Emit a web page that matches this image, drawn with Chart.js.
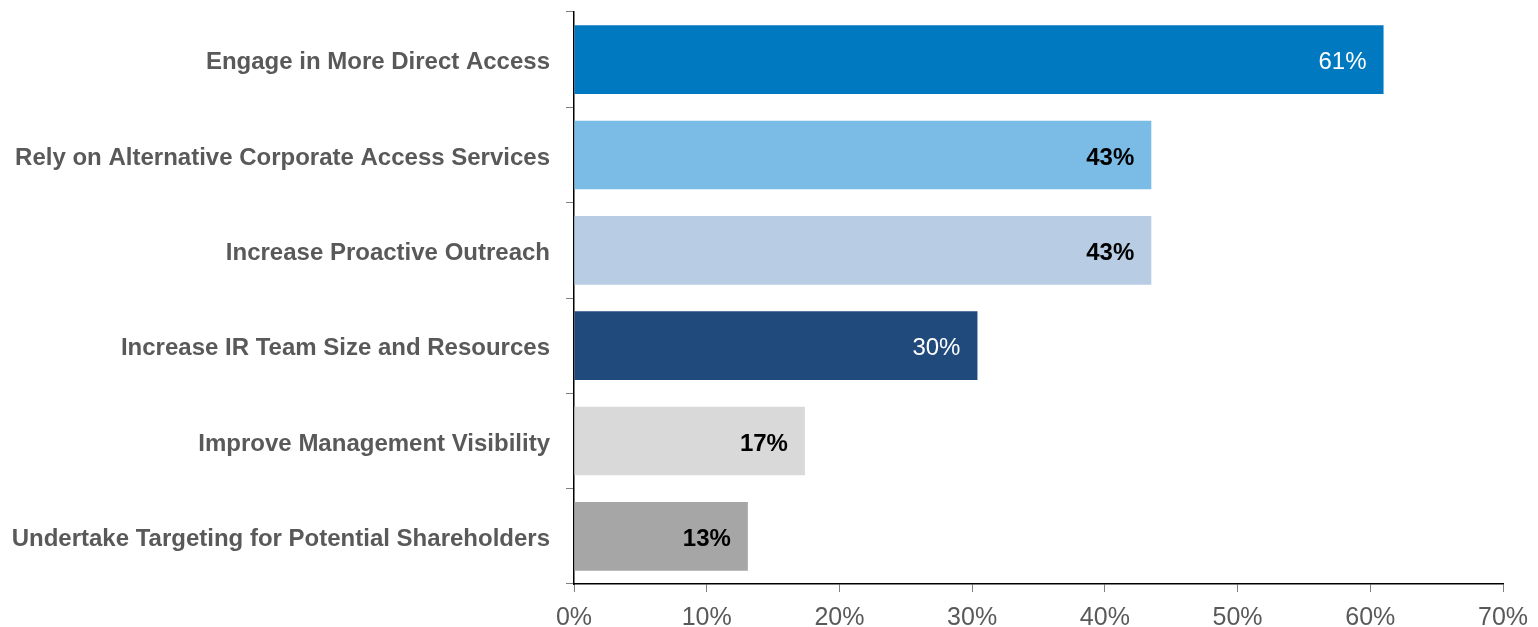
<!DOCTYPE html>
<html>
<head>
<meta charset="utf-8">
<script src="https://cdn.jsdelivr.net/npm/chart.js@4.4.1/dist/chart.umd.min.js"></script>
<style>
html,body{margin:0;padding:0;background:#fff;}
#wrap{width:1538px;height:627px;position:relative;}
</style>
</head>
<body>
<div id="wrap"><canvas id="c" width="1538" height="627"></canvas></div>
<script>
const categories = [
  "Engage in More Direct Access",
  "Rely on Alternative Corporate Access Services",
  "Increase Proactive Outreach",
  "Increase IR Team Size and Resources",
  "Improve Management Visibility",
  "Undertake Targeting for Potential Shareholders"
];
const values = [61.0, 43.5, 43.5, 30.4, 17.4, 13.1];
const valueLabels = ["61%", "43%", "43%", "30%", "17%", "13%"];
const barColors = ["#0079C1", "#7BBCE7", "#B8CCE4", "#20497C", "#D9D9D9", "#A6A6A6"];
const labelColors = ["#FFFFFF", "#000000", "#000000", "#FFFFFF", "#000000", "#000000"];
const xTicks = [0, 10, 20, 30, 40, 50, 60, 70];

const valueLabelPlugin = {
  id: 'valueLabels',
  afterDatasetsDraw(chart) {
    const ctx = chart.ctx;
    const meta = chart.getDatasetMeta(0);
    ctx.save();
    ctx.textAlign = 'right';
    ctx.textBaseline = 'middle';
    meta.data.forEach((el, i) => {
      const white = labelColors[i] === '#FFFFFF';
      ctx.font = (white ? '' : 'bold ') + '24px "Liberation Sans", Arial, sans-serif';
      ctx.fillStyle = labelColors[i];
      ctx.fillText(valueLabels[i], el.x - 17, el.y + 3);
    });
    ctx.restore();
  }
};

new Chart(document.getElementById('c'), {
  type: 'bar',
  data: {
    labels: categories,
    datasets: [{
      data: values,
      backgroundColor: barColors,
      borderWidth: 0,
      barPercentage: 0.72,
      categoryPercentage: 1.0
    }]
  },
  options: {
    indexAxis: 'y',
    responsive: false,
    animation: false,
    events: [],
    layout: { padding: { top: 12, right: 35, left: 0, bottom: 0 } },
    plugins: { legend: { display: false }, tooltip: { enabled: false } },
    scales: {
      x: {
        min: 0, max: 70,
        afterBuildTicks(scale) { scale.ticks = xTicks.map(v => ({ value: v })); },
        afterFit(scale) { scale.height = 43; scale.paddingRight = 0; scale.paddingLeft = 0; },
        ticks: {
          callback: (v) => v + '%',
          color: '#595959',
          font: { family: '"Liberation Sans", Arial, sans-serif', size: 25 },
          padding: 11,
          maxRotation: 0
        },
        grid: { drawOnChartArea: false, drawTicks: true, tickLength: 8, color: '#7F7F7F', lineWidth: 1 },
        border: { color: '#000000', width: 1.5 }
      },
      y: {
        afterFit(scale) { scale.width = 574; scale.paddingTop = 0; scale.paddingBottom = 0; },
        ticks: {
          color: '#595959',
          font: { family: '"Liberation Sans", Arial, sans-serif', size: 24, weight: 'bold' },
          padding: 16,
          labelOffset: 3
        },
        grid: { drawOnChartArea: false, drawTicks: true, tickLength: 8, color: '#7F7F7F', lineWidth: 1, offset: true },
        border: { color: '#000000', width: 1.5 }
      }
    }
  },
  plugins: [valueLabelPlugin]
});
</script>
</body>
</html>
